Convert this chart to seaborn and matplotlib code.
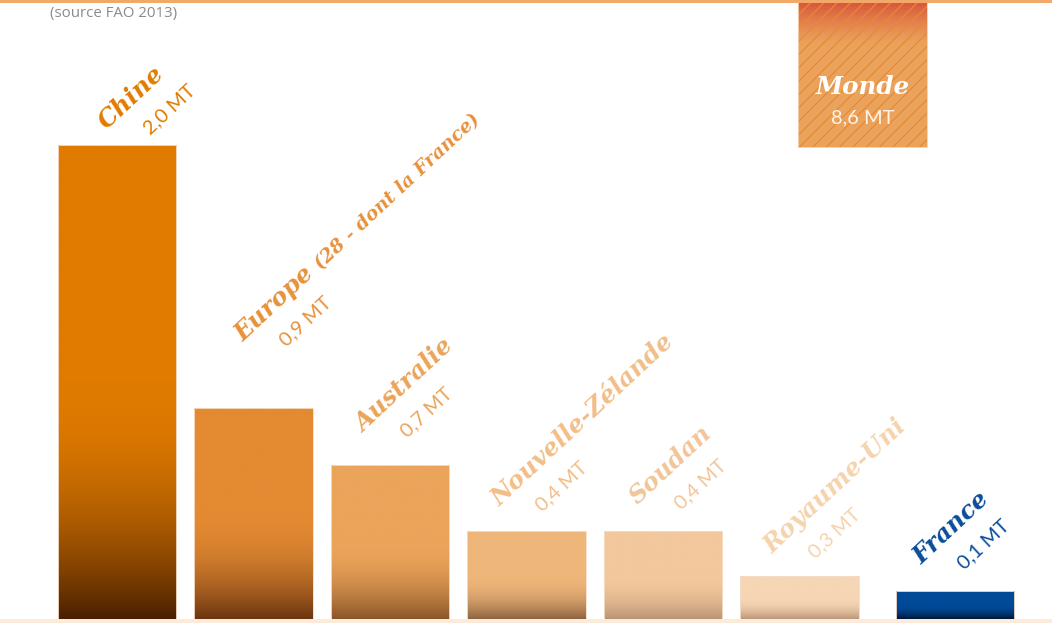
import numpy as np
import pandas as pd
import matplotlib
matplotlib.use("Agg")
import matplotlib.pyplot as plt
from matplotlib.colors import to_rgb
from matplotlib.patches import Rectangle
import seaborn as sns

# Data
countries = ["Chine", "Europe", "Australie", "Nouvelle-Zélande", "Soudan", "Royaume-Uni", "France"]
bar_values = [2.0, 0.89, 0.65, 0.37, 0.37, 0.18, 0.12]
value_labels = ["2,0 MT", "0,9 MT", "0,7 MT", "0,4 MT", "0,4 MT", "0,3 MT", "0,1 MT"]
europe_note = "(28 - dont la France)"
world_label = "Monde"
world_value = 8.6
world_value_label = "8,6 MT"
source_note = "(source FAO 2013)"

# Styles
top_colors = ["#E07B00", "#E38A32", "#EBA45A", "#EFB67A", "#F2C89C", "#F6D6B4", "#004A98"]
bottom_colors = ["#4A2000", "#6B3510", "#8A5528", "#8F6440", "#BB9474", "#BC967A", "#001535"]
text_colors = ["#E07B00", "#E8913A", "#EBA458", "#F2BE88", "#F2C598", "#F5D3AC", "#0A4C9A"]
# label anchor offsets in pixels (from bar top centre)
label_offsets = [(-10, 15), (-10, 66), (-26, 32), (-27, 24), (-25, 26), (-27, 22), (-34, 26)]

DPI = 80
W, H = 1052, 623
ANGLE = 43
NAME_FONT = "DejaVu Serif"
VALUE_FONT = "Lato"

sns.set_style("white")
plt.rcParams["font.family"] = ["Lato", "DejaVu Sans"]

fig = plt.figure(figsize=(W / DPI, H / DPI), dpi=DPI)
ax = fig.add_axes([0, 4 / H, 1, 617 / H])

df = pd.DataFrame({"pays": countries, "production": bar_values})
sns.barplot(data=df, x="pays", y="production", hue="pays", palette=top_colors,
            saturation=1, width=0.865, legend=False, ax=ax)
bars = list(ax.patches)[:len(countries)]

# France stands a bit apart from the others
bars[-1].set_x(bars[-1].get_x() + 0.14)


def gradient(top, bottom, n=256, start=0.5):
    t = np.linspace(0, 1, n)[:, None]
    s = np.clip(t / start, 0, 1)
    w = 1 - (1 - s) ** 2
    col = np.array(to_rgb(bottom)) * (1 - w) + np.array(to_rgb(top)) * w
    return col[:, None, :]


for p, tc, bc in zip(bars, top_colors, bottom_colors):
    x0, w, h = p.get_x(), p.get_width(), p.get_height()
    im = ax.imshow(gradient(tc, bc), extent=[x0, x0 + w, 0, h], origin="lower",
                   aspect="auto", interpolation="bilinear", zorder=2)
    im.set_clip_path(p)
    p.set_facecolor("none")
    p.set_edgecolor("#F6DCC6")
    p.set_linewidth(0.8)
    p.set_zorder(3)

# World box (value far off the scale, shown as a hatched block)
ylim_top = 2.603
mx, mw, mbottom = 5.46, 0.945, 1.99
n = 256
t = np.linspace(0, 1, n)[:, None]
wgt = np.clip((t - 0.7) / 0.3, 0, 1) ** 1.3
mcol = np.array(to_rgb("#EBA35C")) * (1 - wgt) + np.array(to_rgb("#D8533A")) * wgt
ax.imshow(mcol[:, None, :], extent=[mx - mw / 2, mx + mw / 2, mbottom, ylim_top],
          origin="lower", aspect="auto", interpolation="bilinear", zorder=2)
plt.rcParams["hatch.linewidth"] = 1.1
ax.bar(mx, world_value - mbottom, bottom=mbottom, width=mw, facecolor="none",
       edgecolor="#E58A35", hatch="//", linewidth=0, zorder=3)
ax.bar(mx, world_value - mbottom, bottom=mbottom, width=mw, facecolor="none",
       edgecolor="#F6CFA8", linewidth=0.8, zorder=4)
ax.text(mx, 2.245, world_label, ha="center", va="center", color="white",
        fontsize=22, fontweight="bold", fontstyle="italic", family=NAME_FONT, zorder=5)
ax.text(mx, 2.115, world_value_label, ha="center", va="center", color="#FFF4E8",
        fontsize=18, family=VALUE_FONT, zorder=5)

# Rotated labels
rad = np.deg2rad(ANGLE)
along = np.array([np.cos(rad), np.sin(rad)])
perp = np.array([np.sin(rad), -np.cos(rad)])
value_shift = 28 * along + 33 * perp

name_kw = dict(fontsize=22, fontweight="bold", fontstyle="italic", family=NAME_FONT)
value_kw = dict(fontsize=18, family=VALUE_FONT)

for i, p in enumerate(bars):
    cx = p.get_x() + p.get_width() / 2
    top = p.get_height()
    dx, dy = label_offsets[i]
    common = dict(xy=(cx, top), textcoords="offset pixels", rotation=ANGLE,
                  rotation_mode="anchor", ha="left", va="baseline",
                  color=text_colors[i], annotation_clip=False, zorder=5)
    ax.annotate(countries[i], xytext=(dx, dy), **common, **name_kw)
    vx, vy = dx + value_shift[0], dy + value_shift[1]
    ax.annotate(value_labels[i], xytext=(vx, vy), **common, **value_kw)
    if countries[i] == "Europe":
        tmp = fig.text(0, 0, countries[i], **name_kw)
        fig.canvas.draw()
        tw = tmp.get_window_extent().width
        tmp.remove()
        nx, ny = np.array([dx, dy]) + (tw + 7) * along
        ax.annotate(europe_note, xytext=(nx, ny), **common,
                    fontsize=17, fontweight="bold", fontstyle="italic", family=NAME_FONT)

ax.set_xlim(-117 / 136.5, (W - 117) / 136.5)
ax.set_ylim(0, ylim_top)
ax.set_axis_off()

# Thin orange rule on top, pale band at the bottom
fig.add_artist(Rectangle((0, 1 - 3 / H), 1, 3 / H, transform=fig.transFigure,
                         facecolor="#F2A868", edgecolor="none", zorder=10))
fig.add_artist(Rectangle((0, 0), 1, 4 / H, transform=fig.transFigure,
                         facecolor="#FCEADB", edgecolor="none", zorder=10))

fig.text(50 / W, 1 - 14 / H, source_note, ha="left", va="center", color="#8A8A8A",
         fontsize=13.5, family="Open Sans")

fig.savefig("out.png", dpi=DPI, facecolor="white")
